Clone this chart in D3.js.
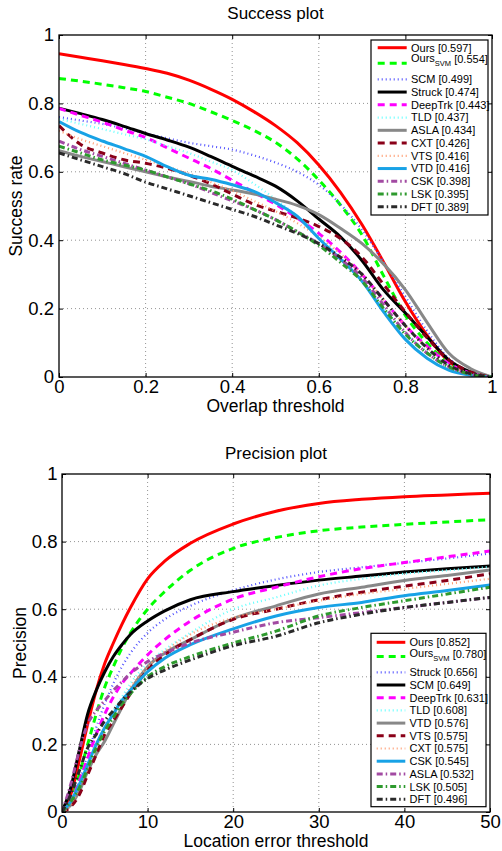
<!DOCTYPE html>
<html><head><meta charset="utf-8">
<script src="https://cdn.jsdelivr.net/npm/d3@7"></script>
<style>
body{margin:0;background:#fff}
svg{display:block}
text{font-family:"Liberation Sans",Arial,Helvetica,sans-serif}
</style>
</head><body>
<svg id="c" width="502" height="851"></svg>
<script>
// ---------------- DATA ----------------
const overlapThresholds = [0,0.05,0.1,0.15,0.2,0.25,0.3,0.35,0.4,0.45,0.5,0.55,0.6,0.65,0.7,0.75,0.8,0.85,0.9,0.95,1];
const succNames  = ["Ours","OursSVM","SCM","Struck","DeepTrk","TLD","ASLA","CXT","VTS","VTD","CSK","LSK","DFT"];
const succScores = ["0.597","0.554","0.499","0.474","0.443","0.437","0.434","0.426","0.416","0.416","0.398","0.395","0.389"];
const succOurs    = [0.945,0.935,0.925,0.914,0.902,0.888,0.868,0.842,0.812,0.776,0.735,0.685,0.62,0.54,0.445,0.335,0.22,0.122,0.045,0.012,0];
const succOursSVM = [0.873,0.865,0.856,0.846,0.835,0.818,0.80,0.776,0.75,0.721,0.686,0.638,0.576,0.503,0.415,0.295,0.18,0.10,0.04,0.012,0];
const succSCM     = [0.76,0.75,0.74,0.727,0.712,0.698,0.685,0.675,0.665,0.648,0.627,0.60,0.562,0.505,0.43,0.335,0.235,0.135,0.055,0.015,0];
const succStruck  = [0.786,0.77,0.753,0.733,0.712,0.693,0.672,0.645,0.616,0.588,0.558,0.515,0.462,0.41,0.34,0.254,0.187,0.118,0.05,0.015,0];
const succDeepTrk = [0.785,0.765,0.745,0.722,0.70,0.67,0.64,0.61,0.575,0.54,0.505,0.465,0.42,0.365,0.30,0.225,0.15,0.09,0.04,0.012,0];
const succTLD     = [0.755,0.74,0.725,0.71,0.695,0.675,0.655,0.63,0.605,0.565,0.52,0.47,0.41,0.35,0.28,0.20,0.13,0.075,0.035,0.01,0];
const succASLA    = [0.662,0.645,0.63,0.615,0.60,0.585,0.572,0.558,0.547,0.535,0.52,0.502,0.475,0.435,0.39,0.33,0.255,0.16,0.07,0.025,0];
const succCXT     = [0.735,0.68,0.655,0.635,0.625,0.61,0.59,0.565,0.535,0.505,0.485,0.465,0.44,0.405,0.35,0.27,0.19,0.115,0.05,0.015,0];
const succVTS     = [0.72,0.695,0.675,0.655,0.635,0.615,0.595,0.57,0.545,0.515,0.485,0.45,0.41,0.36,0.30,0.225,0.15,0.085,0.035,0.01,0];
const succVTD     = [0.747,0.715,0.69,0.668,0.645,0.615,0.59,0.578,0.562,0.543,0.51,0.47,0.405,0.345,0.28,0.19,0.11,0.055,0.02,0.005,0];
const succCSK     = [0.69,0.665,0.645,0.625,0.605,0.585,0.565,0.54,0.515,0.49,0.46,0.425,0.39,0.345,0.29,0.21,0.13,0.07,0.03,0.008,0];
const succLSK     = [0.675,0.655,0.635,0.62,0.605,0.585,0.565,0.545,0.52,0.49,0.46,0.425,0.385,0.335,0.28,0.20,0.125,0.07,0.03,0.008,0];
const succDFT     = [0.655,0.635,0.615,0.595,0.57,0.55,0.53,0.51,0.49,0.47,0.445,0.42,0.39,0.35,0.30,0.225,0.15,0.085,0.035,0.01,0];
const succSeries = [succOurs,succOursSVM,succSCM,succStruck,succDeepTrk,succTLD,succASLA,succCXT,succVTS,succVTD,succCSK,succLSK,succDFT];

const errorThresholds = [0,1,2,3,4,5,6,7,8,10,12,15,20,25,30,35,40,45,50];
const precNames  = ["Ours","OursSVM","Struck","SCM","DeepTrk","TLD","VTD","VTS","CXT","CSK","ASLA","LSK","DFT"];
const precScores = ["0.852","0.780","0.656","0.649","0.631","0.608","0.576","0.575","0.575","0.545","0.532","0.505","0.496"];
const precOurs    = [0,0.05,0.15,0.26,0.36,0.44,0.50,0.555,0.605,0.69,0.742,0.795,0.852,0.89,0.913,0.925,0.933,0.938,0.943];
const precOursSVM = [0,0.03,0.11,0.20,0.29,0.37,0.43,0.485,0.53,0.60,0.652,0.715,0.78,0.812,0.832,0.843,0.851,0.858,0.865];
const precStruck  = [0,0.03,0.09,0.17,0.25,0.32,0.38,0.43,0.47,0.53,0.57,0.61,0.656,0.688,0.71,0.724,0.737,0.75,0.765];
const precSCM     = [0,0.07,0.18,0.29,0.36,0.415,0.46,0.495,0.525,0.565,0.595,0.628,0.652,0.67,0.686,0.698,0.71,0.72,0.728];
const precDeepTrk = [0,0.03,0.09,0.16,0.23,0.29,0.34,0.38,0.41,0.465,0.51,0.565,0.63,0.665,0.696,0.72,0.738,0.755,0.772];
const precTLD     = [0,0.02,0.07,0.13,0.19,0.25,0.30,0.34,0.38,0.44,0.48,0.53,0.60,0.635,0.67,0.69,0.705,0.715,0.725];
const precVTD     = [0,0.02,0.06,0.12,0.17,0.21,0.26,0.31,0.36,0.43,0.47,0.51,0.572,0.61,0.645,0.665,0.685,0.70,0.716];
const precVTS     = [0,0.015,0.05,0.11,0.17,0.23,0.27,0.31,0.35,0.42,0.465,0.51,0.57,0.60,0.628,0.65,0.668,0.685,0.705];
const precCXT     = [0,0.02,0.07,0.13,0.19,0.25,0.29,0.33,0.37,0.43,0.475,0.525,0.575,0.60,0.625,0.645,0.66,0.675,0.69];
const precCSK     = [0,0.03,0.08,0.14,0.20,0.25,0.29,0.33,0.36,0.415,0.455,0.495,0.542,0.58,0.605,0.62,0.64,0.655,0.672];
const precASLA    = [0,0.08,0.18,0.26,0.30,0.33,0.36,0.385,0.41,0.445,0.47,0.50,0.532,0.56,0.575,0.59,0.605,0.62,0.635];
const precLSK     = [0,0.03,0.07,0.13,0.19,0.24,0.28,0.32,0.35,0.40,0.43,0.46,0.50,0.535,0.58,0.605,0.625,0.645,0.665];
const precDFT     = [0,0.05,0.12,0.19,0.23,0.27,0.30,0.33,0.355,0.395,0.42,0.45,0.492,0.52,0.56,0.585,0.605,0.62,0.635];
const precSeries = [precOurs,precOursSVM,precStruck,precSCM,precDeepTrk,precTLD,precVTD,precVTS,precCXT,precCSK,precASLA,precLSK,precDFT];

const successXTicks = [0,0.2,0.4,0.6,0.8,1];
const precisionXTicks = [0,10,20,30,40,50];
const yTicks = [0,0.2,0.4,0.6,0.8,1];

// ---------------- STYLES (by rank) ----------------
const DASH = "7,5", DOT = "1,3", DASHDOT = "6,3,1.5,3";
const styles = [
  {c:"#ff0000", w:3,   d:null},
  {c:"#00ff00", w:3,   d:DASH},
  {c:"#5252ff", w:2.2, d:DOT},
  {c:"#000000", w:3,   d:null},
  {c:"#ff00ff", w:3,   d:DASH},
  {c:"#66ffff", w:2.2, d:DOT},
  {c:"#888888", w:3,   d:null},
  {c:"#8a0018", w:3,   d:DASH},
  {c:"#ff9c70", w:2.2, d:DOT},
  {c:"#18a2e6", w:3,   d:null},
  {c:"#a24aa2", w:3,   d:DASHDOT},
  {c:"#2e9a2e", w:3,   d:DASHDOT},
  {c:"#2a2a2a", w:3,   d:DASHDOT}
];

const FONT = '"Liberation Sans",Arial,Helvetica,sans-serif';
const svg = d3.select("#c");

function drawPanel(p) {
  const x = d3.scaleLinear().domain(p.xDomain).range([p.left, p.right]);
  const y = d3.scaleLinear().domain([0,1]).range([p.bottom, p.top]);
  const g = svg.append("g");

  // grid
  g.selectAll(null).data(p.xTicks.slice(1,-1)).join("line")
    .attr("x1", d=>x(d)).attr("x2", d=>x(d)).attr("y1", p.top).attr("y2", p.bottom)
    .attr("stroke","#777").attr("stroke-width",0.8).attr("stroke-dasharray","1,3");
  g.selectAll(null).data(yTicks.slice(1,-1)).join("line")
    .attr("y1", d=>y(d)).attr("y2", d=>y(d)).attr("x1", p.left).attr("x2", p.right)
    .attr("stroke","#777").attr("stroke-width",0.8).attr("stroke-dasharray","1,3");

  const styleAxis = (sel) => {
    sel.attr("font-size",18.5).attr("font-family",FONT);
    sel.select(".domain").remove();
    sel.selectAll("line").attr("stroke","#000").attr("stroke-width",1);
    sel.selectAll("text").attr("fill","#000");
  };
  g.append("g").attr("transform",`translate(0,${p.bottom})`)
    .call(d3.axisBottom(x).tickValues(p.xTicks).tickFormat(d=>String(d)).tickSize(-4).tickPadding(3)).call(styleAxis);
  g.append("g").attr("transform",`translate(0,${p.top})`)
    .call(d3.axisTop(x).tickValues(p.xTicks).tickFormat("").tickSize(-4)).call(styleAxis);
  g.append("g").attr("transform",`translate(${p.left},0)`)
    .call(d3.axisLeft(y).tickValues(yTicks).tickFormat(d=>String(d)).tickSize(-4).tickPadding(p.yPad)).call(styleAxis);
  g.append("g").attr("transform",`translate(${p.right},0)`)
    .call(d3.axisRight(y).tickValues(yTicks).tickFormat("").tickSize(-4)).call(styleAxis);

  // clip
  const cid = "clip" + p.id;
  svg.append("clipPath").attr("id",cid).append("rect")
    .attr("x",p.left).attr("y",p.top).attr("width",p.right-p.left).attr("height",p.bottom-p.top);

  const line = d3.line().x((d,i)=>x(p.xs[i])).y(d=>y(d)).curve(d3.curveMonotoneX);
  const lg = g.append("g").attr("clip-path",`url(#${cid})`);
  p.series.forEach((s,i) => {
    const st = styles[i];
    lg.append("path").attr("d", line(s)).attr("fill","none")
      .attr("stroke", st.c).attr("stroke-width", st.w)
      .attr("stroke-dasharray", st.d).attr("stroke-linejoin","round");
  });

  // box
  g.append("rect").attr("x",p.left).attr("y",p.top).attr("width",p.right-p.left).attr("height",p.bottom-p.top)
    .attr("fill","none").attr("stroke","#000").attr("stroke-width",1.3);

  // title & labels
  g.append("text").attr("x",(p.left+p.right)/2).attr("y",p.titleY).attr("text-anchor","middle")
    .attr("font-size",17).text(p.title);
  g.append("text").attr("x",(p.left+p.right)/2).attr("y",p.xlabelY).attr("text-anchor","middle")
    .attr("font-size",17.5).text(p.xlabel);
  g.append("text").attr("transform",`translate(${p.ylabelX},${(p.top+p.bottom)/2}) rotate(-90)`)
    .attr("text-anchor","middle").attr("font-size",17.5).text(p.ylabel);

  // legend
  const L = p.legend;
  const leg = g.append("g");
  leg.append("rect").attr("x",L.x0).attr("y",L.y0).attr("width",L.x1-L.x0).attr("height",L.y1-L.y0)
    .attr("fill","#fff").attr("stroke","#000").attr("stroke-width",1.2);
  p.names.forEach((name,i) => {
    const st = styles[i];
    let ly, ty;
    if (i === 0) { ly = L.row0; ty = L.row0; }
    else if (i === 1) { ly = L.row0 + L.svmLine; ty = L.row0 + 10.5; }
    else { ly = L.row2 + (i-2)*L.step; ty = ly; }
    leg.append("line").attr("x1",L.lx0).attr("x2",L.lx1).attr("y1",ly).attr("y2",ly)
      .attr("stroke",st.c).attr("stroke-width",st.w).attr("stroke-dasharray",st.d);
    const t = leg.append("text").attr("x",L.tx).attr("y",ty+3.9).attr("font-size",11);
    if (name === "OursSVM") {
      t.append("tspan").text("Ours");
      t.append("tspan").attr("font-size",7.5).attr("dy",4).text("SVM");
      t.append("tspan").attr("dy",-3).text(" [" + p.scores[i] + "]");
    } else {
      t.text(name + " [" + p.scores[i] + "]");
    }
  });
}

drawPanel({
  id:"s", left:59, right:492, top:35, bottom:377, yPad:5,
  xDomain:[0,1], xTicks:successXTicks, xs:overlapThresholds,
  series:succSeries, names:succNames, scores:succScores,
  title:"Success plot", titleY:19, xlabel:"Overlap threshold", xlabelY:411.5,
  ylabel:"Success rate", ylabelX:21.5,
  legend:{x0:371, x1:488, y0:40, y1:215, row0:47.7, svmLine:15.6, row2:79.3, step:12.75, lx0:377.7, lx1:406.7, tx:411}
});
drawPanel({
  id:"p", left:62, right:490, top:474, bottom:812, yPad:4.5,
  xDomain:[0,50], xTicks:precisionXTicks, xs:errorThresholds,
  series:precSeries, names:precNames, scores:precScores,
  title:"Precision plot", titleY:459, xlabel:"Location error threshold", xlabelY:846.5,
  ylabel:"Precision", ylabelX:25.5,
  legend:{x0:371, x1:486, y0:633.3, y1:806.7, row0:642.3, svmLine:14.2, row2:672.3, step:12.7, lx0:376.7, lx1:405.3, tx:409.5}
});
</script>
</body></html>
